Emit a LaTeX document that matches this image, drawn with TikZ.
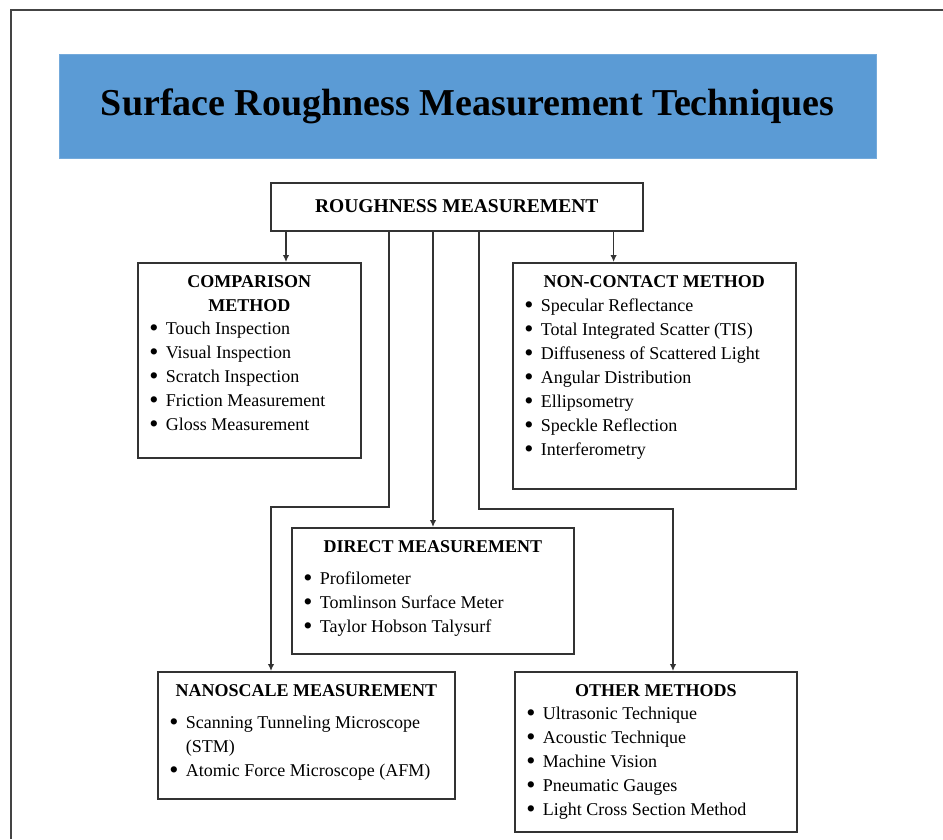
\documentclass[tikz,border=0pt]{standalone}
\usepackage{fontspec}
\setmainfont{Liberation Serif}
\usetikzlibrary{arrows.meta,positioning}
\definecolor{titleblue}{HTML}{5B9BD5}
\definecolor{framegray}{HTML}{444444}
\definecolor{linegray}{HTML}{333333}
\tikzset{
  titlebox/.style={fill=titleblue, draw=titleblue!85!white, anchor=north west, inner sep=0pt,
    font=\fontsize{38}{42}\selectfont\bfseries},
  rootbox/.style={draw=linegray, line width=1.6pt, anchor=north west, inner sep=0pt,
    font=\fontsize{19.5}{22}\selectfont\bfseries},
  methodbox/.style={draw=linegray, line width=1.6pt, anchor=north west, inner sep=0pt},
  arr/.style={-{Latex[length=7pt,width=6.5pt]}, line width=1.4pt, draw=linegray}
}
% box body: width, height, header, gap after header, items
\newcommand{\methodbody}[5]{%
  \begin{minipage}[t][#2pt][t]{#1pt}\fontsize{18}{24}\selectfont
    \vspace*{8pt}\centering\strut\textbf{#3}\par\vspace{#4}
    \raggedright\leftskip=14pt #5\par
  \end{minipage}}
\newcommand{\bitem}[1]{\par\noindent\hangindent=14pt\hangafter=1%
  \makebox[14pt][l]{\hspace{-2.5pt}\raisebox{-1.6pt}{\scalebox{1.45}{\textbullet}}}#1}

\begin{document}
\begin{tikzpicture}[x=1pt, y=-1pt]
  \useasboundingbox (0,0) rectangle (943,839);
  \fill[white] (0,0) rectangle (943,839);
  \draw[framegray, line width=2pt] (11,839) -- (11,10) -- (943,10);

  \node[titlebox, minimum width=817pt, minimum height=104pt] (title) at (59,54)
    {Surface Roughness Measurement Techniques};
  \node[rootbox, minimum width=372pt, minimum height=48pt] (root) at (270,182)
    {\raisebox{2pt}{ROUGHNESS MEASUREMENT}};

  \node[methodbox] (comparison) at (137,262) {\methodbody{223}{195}{COMPARISON\\METHOD}{-1pt}{%
    \bitem{Touch Inspection}
    \bitem{Visual Inspection}
    \bitem{Scratch Inspection}
    \bitem{Friction Measurement}
    \bitem{Gloss Measurement}}};
  \node[methodbox] (noncontact) at (512,262) {\methodbody{283}{226}{NON-CONTACT METHOD}{0pt}{%
    \bitem{Specular Reflectance}
    \bitem{Total Integrated Scatter (TIS)}
    \bitem{Diffuseness of Scattered Light}
    \bitem{Angular Distribution}
    \bitem{Ellipsometry}
    \bitem{Speckle Reflection}
    \bitem{Interferometry}}};
  \node[methodbox] (direct) at (291,527) {\methodbody{282}{126}{DIRECT MEASUREMENT}{8pt}{%
    \bitem{Profilometer}
    \bitem{Tomlinson Surface Meter}
    \bitem{Taylor Hobson Talysurf}}};
  \node[methodbox] (nano) at (157,671) {\methodbody{297}{127}{NANOSCALE MEASUREMENT}{8pt}{%
    \bitem{Scanning Tunneling Microscope\newline (STM)}
    \bitem{Atomic Force Microscope (AFM)}}};
  \node[methodbox] (other) at (514,671) {\methodbody{282}{160}{OTHER METHODS}{-1pt}{%
    \bitem{Ultrasonic Technique}
    \bitem{Acoustic Technique}
    \bitem{Machine Vision}
    \bitem{Pneumatic Gauges}
    \bitem{Light Cross Section Method}}};

  \coordinate (splitL) at (271,507);
  \coordinate (splitR) at (673,509);
  \draw[arr] ([xshift=16pt]root.south west) -- ([xshift=16pt]root.south west |- comparison.north);
  \draw[arr] ([xshift=-30pt]root.south east) -- ([xshift=-30pt]root.south east |- noncontact.north);
  \draw[arr] ([xshift=163pt]root.south west) -- ([xshift=163pt]root.south west |- direct.north);
  \draw[arr] ([xshift=119pt]root.south west) |- (splitL) -- (splitL |- nano.north);
  \draw[arr] ([xshift=209pt]root.south west) |- (splitR) -- (splitR |- other.north);
\end{tikzpicture}
\end{document}
